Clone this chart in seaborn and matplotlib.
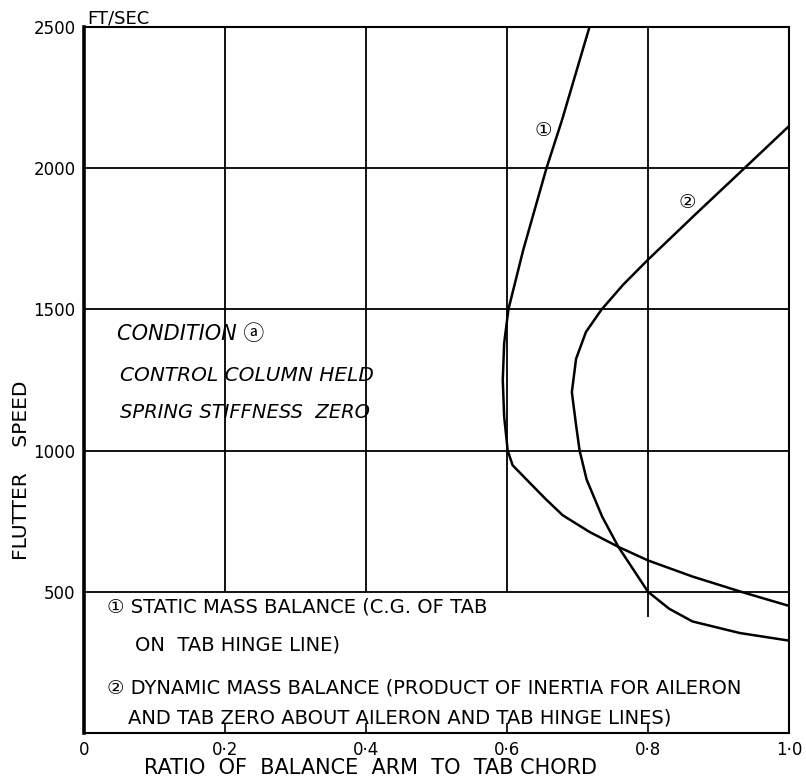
"""Flutter speed vs balance arm ratio for a tab (condition a)."""

import matplotlib

matplotlib.use("Agg")
import matplotlib.pyplot as plt
import seaborn as sns

# curve 1: static mass balance (top to bottom)
static_ratio = [0.717, 0.678, 0.656, 0.623, 0.602, 0.596, 0.594, 0.596, 0.601,
                0.608, 0.631, 0.655, 0.679, 0.717, 0.758, 0.800, 0.863, 0.932, 1.000]
static_speed = [2500, 2170, 2000, 1710, 1500, 1380, 1250, 1120, 1000,
                948, 889, 828, 771, 712, 659, 611, 554, 500, 450]

# curve 2: dynamic mass balance
dynamic_ratio = [1.000, 0.936, 0.870, 0.800, 0.765, 0.734, 0.712, 0.698, 0.692, 0.698,
                 0.703, 0.713, 0.735, 0.758, 0.800, 0.830, 0.863, 0.930, 1.000]
dynamic_speed = [2149, 1998, 1843, 1676, 1588, 1499, 1420, 1325, 1207, 1090,
                 1000, 897, 766, 659, 500, 440, 395, 354, 327]

x_ticks = [0, 0.2, 0.4, 0.6, 0.8, 1.0]
x_labels = ["0", "0·2", "0·4", "0·6", "0·8", "1·0"]
y_ticks = [500, 1000, 1500, 2000, 2500]
y_labels = ["500", "1000", "1500", "2000", "2500"]

sns.set_style("white")
plt.rcParams["font.family"] = ["DejaVu Sans", "Noto Sans CJK JP"]
plt.rcParams["text.color"] = "black"
plt.rcParams["xtick.color"] = "black"
plt.rcParams["ytick.color"] = "black"

fig = plt.figure(figsize=(8.06, 7.82), dpi=100)
ax = fig.add_axes([0.1042, 0.0627, 0.8747, 0.9028])
ax.set_xlim(0, 1.0)
ax.set_ylim(0, 2500)

# grid, drawn by hand: the thin verticals stop at the 500 line
ink = "black"
ax.hlines([500, 1000, 1500, 2000], 0, 1.0, color=ink, lw=1.3, zorder=1)
ax.vlines([0.2, 0.4, 0.6], 500, 2500, color=ink, lw=1.3, zorder=1)
ax.vlines(0.8, 410, 2500, color=ink, lw=1.3, zorder=1)

for side in ["top", "right", "bottom"]:
    ax.spines[side].set_linewidth(1.5)
    ax.spines[side].set_color(ink)
ax.spines["left"].set_linewidth(2.6)
ax.spines["left"].set_color(ink)

sns.lineplot(x=static_ratio, y=static_speed, sort=False, estimator=None,
             color=ink, lw=1.8, ax=ax)
sns.lineplot(x=dynamic_ratio, y=dynamic_speed, sort=False, estimator=None,
             color=ink, lw=1.8, ax=ax)

ax.set_xticks(x_ticks, x_labels, fontsize=12)
ax.set_yticks(y_ticks, y_labels, fontsize=12)
ax.tick_params(axis="x", direction="in", length=7, width=1.2, pad=6, bottom=True)
ax.tick_params(axis="y", length=0, pad=6)

ax.text(0.651, 2132, "①", fontsize=14, ha="center", va="center")
ax.text(0.856, 1877, "②", fontsize=14, ha="center", va="center")

ax.text(0.047, 1414, "CONDITION ⓐ", fontsize=15, style="italic", va="center")
ax.text(0.051, 1266, "CONTROL COLUMN HELD", fontsize=14.5, style="italic", va="center")
ax.text(0.051, 1135, "SPRING STIFFNESS  ZERO", fontsize=14, style="italic", va="center")

text_size = 14
ax.text(0.033, 446, "① STATIC MASS BALANCE (C.G. OF TAB", fontsize=text_size, va="center")
ax.text(0.072, 311, "ON  TAB HINGE LINE)", fontsize=text_size, va="center")
ax.text(0.033, 159, "② DYNAMIC MASS BALANCE (PRODUCT OF INERTIA FOR AILERON",
        fontsize=text_size, va="center")
ax.text(0.062, 53, "AND TAB ZERO ABOUT AILERON AND TAB HINGE LINES)",
        fontsize=text_size, va="center")

ax.text(0.004, 2530, "FT/SEC", fontsize=13, va="center", clip_on=False)
ax.text(0.406, -124, "RATIO  OF  BALANCE  ARM  TO  TAB CHORD", fontsize=15,
        ha="center", va="center", clip_on=False)
ax.text(-0.088, 930, "FLUTTER    SPEED", fontsize=14.5, rotation=90,
        ha="center", va="center", clip_on=False)

fig.savefig("out.png", dpi=100)
plt.close(fig)
